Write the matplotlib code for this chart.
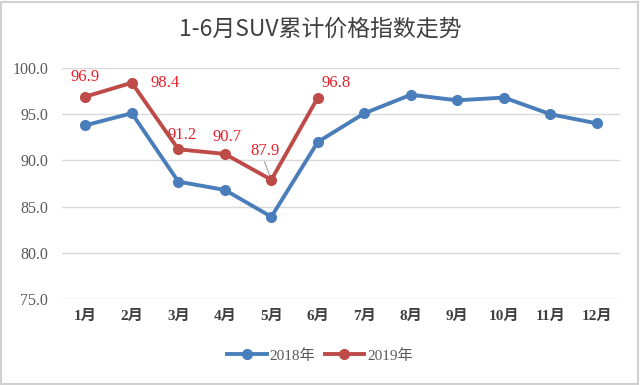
import matplotlib.pyplot as plt
from matplotlib.lines import Line2D

months = ['1月', '2月', '3月', '4月', '5月', '6月', '7月', '8月', '9月', '10月', '11月', '12月']
idx_2018 = [93.8, 95.1, 87.7, 86.8, 83.9, 92.0, 95.1, 97.1, 96.5, 96.8, 95.0, 94.0]
idx_2019 = [96.9, 98.4, 91.2, 90.7, 87.9, 96.8]
yticks = [75.0, 80.0, 85.0, 90.0, 95.0, 100.0]

blue = '#4A7EBB'
red = '#BE4B48'
serif = ['Liberation Serif', 'Noto Sans CJK SC']

fig = plt.figure(figsize=(6.4, 3.85), dpi=100)
ax = fig.add_axes([0.097, 0.2234, 0.872, 0.60])

x = list(range(len(months)))
ax.plot(x, idx_2018, color=blue, lw=2.8, marker='o', ms=7, label='2018年', zorder=3)
ax.plot(x[:len(idx_2019)], idx_2019, color=red, lw=2.8, marker='o', ms=7, label='2019年', zorder=4)

# data labels for 2019 (offset in points)
offs = [(0, 14), (24, 0), (3, 10.5), (1.5, 12), (-4.5, 21), (13, 10.5)]
for i, v in enumerate(idx_2019):
    ax.annotate(f'{v:.1f}', (i, v), xytext=offs[i], textcoords='offset points',
                ha='center', va='center', color='#E8202A', fontsize=12, family=serif)
# leader line for 5月 label
ax.annotate('', (4, idx_2019[4]), xytext=(-5, 13), textcoords='offset points',
            arrowprops=dict(arrowstyle='-', color='#A0A0A0', lw=0.8, shrinkA=0, shrinkB=3))

ax.set_xlim(-0.5, 11.5)
ax.set_ylim(75, 100)
ax.set_yticks(yticks)
ax.set_yticklabels([f'{t:.1f}' for t in yticks], family=serif, fontsize=11.5, color='#595959')
ax.set_xticks(x)
ax.set_xticklabels(months, family=serif, fontsize=11, fontweight='bold', color='#404040')
ax.tick_params(length=0, pad=8)
ax.tick_params(axis='y', pad=10)
ax.grid(axis='y', color='#D9D9D9', lw=1)
for s in ax.spines.values():
    s.set_visible(False)
ax.set_axisbelow(True)

fig.text(0.5, 0.925, '1-6月SUV累计价格指数走势', ha='center', va='center',
         fontsize=16.5, color='#404040', family=['Noto Sans CJK SC', 'DejaVu Sans'])

handles = [Line2D([], [], color=blue, lw=2.8, marker='o', ms=7),
           Line2D([], [], color=red, lw=2.8, marker='o', ms=7)]
fig.legend(handles, ['2018年', '2019年'], loc='center', bbox_to_anchor=(0.5, 0.076),
           ncol=2, frameon=False, prop={'family': serif, 'size': 11},
           handlelength=2.6, columnspacing=0.6, handletextpad=0.2, labelcolor='#595959')

# light frame around the chart
fig.patches.append(plt.Rectangle((0.002, 0.003), 0.995, 0.993, transform=fig.transFigure,
                                 fill=False, edgecolor='#D0D0D0', lw=1.5))

fig.savefig('out.png', dpi=100)
